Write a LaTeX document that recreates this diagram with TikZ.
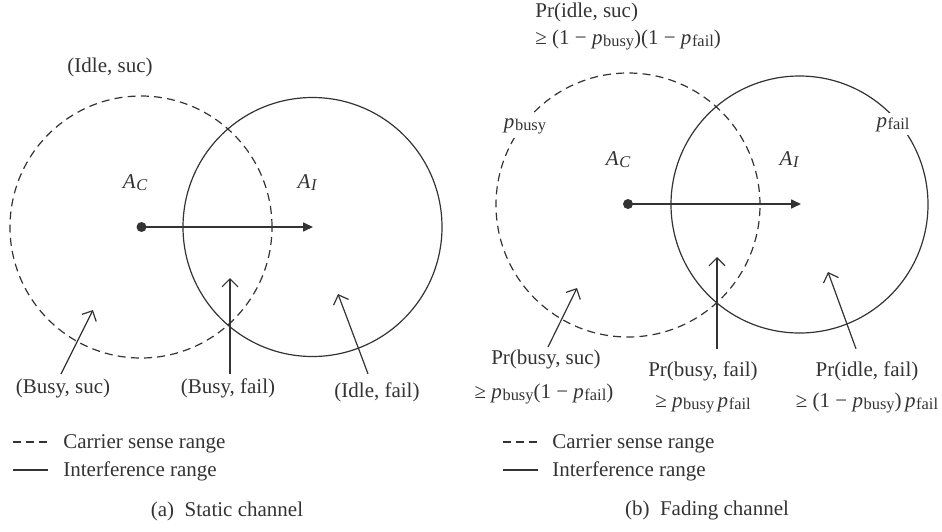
\documentclass[tikz,border=0pt]{standalone}
\usepackage{fontspec}
\setmainfont{Liberation Serif}
\usetikzlibrary{arrows.meta}
\definecolor{ink}{HTML}{333333}
\newcommand{\subtxt}[1]{\raisebox{-0.3ex}{\fontsize{8.2}{9}\selectfont #1}}
\newcommand{\pbusy}{\textit{p}\kern0.3pt\subtxt{busy}}
\newcommand{\pfail}{\textit{p}\kern0.3pt\subtxt{fail}}
\newcommand{\acsym}{\textit{A}\kern0.3pt\subtxt{\itshape C}}
\newcommand{\aisym}{\textit{A}\kern0.3pt\subtxt{\itshape I}}
\begin{document}
\begin{tikzpicture}[x=0.5pt,y=-0.5pt,
  every node/.style={text=ink, font=\fontsize{10.5}{12}\selectfont, inner sep=0pt},
  dashedline/.style={draw=ink, line width=0.6pt, dash pattern=on 4pt off 2.6pt},
  solidline/.style={draw=ink, line width=0.6pt},
  pointer/.style={draw=ink, line width=0.6pt, -{Straight Barb[length=4pt,width=8pt]}},
  mainarrow/.style={draw=ink, line width=0.8pt, -{Triangle[length=5pt,width=4.5pt]}},
  gaplabel/.style={fill=white, inner sep=2pt}]
\useasboundingbox (0,0) rectangle (942,531);

% ---------- (a) Static channel ----------
\draw[dashedline] (141,227) circle[radius=65.5pt];
\draw[solidline] (312.5,227) circle[radius=64.75pt];
\fill[ink] (141.5,227) circle[radius=2.5pt];
\coordinate (aC) at (141.5,227);
\coordinate (aI) at (313,227);
\draw[mainarrow] (aC) -- (aI);
\node[anchor=base] (acl) at (135,188) {\acsym};
\node[anchor=base] (ail) at (307,188) {\aisym};
\node[anchor=base] (is) at (110,72) {(Idle, suc)};
\node[anchor=base] (bs) at (63,393) {(Busy, suc)};
\node[anchor=base] (bf) at (228,393) {(Busy, fail)};
\node[anchor=base] (ifl) at (377,397) {(Idle, fail)};
\coordinate (bst) at (93,310);
\coordinate (bft) at (230,278);
\coordinate (ift) at (338,294);
\draw[pointer] ([xshift=-1pt,yshift=2pt]bs.north) -- (bst);
\draw[pointer] ([xshift=1pt,yshift=2pt]bf.north) -- (bft);
\draw[pointer] ([xshift=-4.5pt,yshift=4pt]ifl.north) -- (ift);
% legend
\coordinate (la1) at (13,442); \coordinate (la2) at (48,442);
\coordinate (lb1) at (13,470); \coordinate (lb2) at (48,470);
\draw[draw=ink, line width=0.6pt, dash pattern=on 4pt off 2.5pt] (la1) -- (la2);
\draw[solidline] (lb1) -- (lb2);
\node[anchor=base west] (lta) at (63,448) {Carrier sense range};
\node[anchor=base west] (ltb) at (63,476) {Interference range};
\node[anchor=base] (capa) at (227,516) {(a)\enspace Static channel};

% ---------- (b) Fading channel ----------
\draw[dashedline] (628,205) circle[radius=66pt];
\draw[solidline] (799.5,204.5) circle[radius=64.25pt];
\fill[ink] (628,204) circle[radius=2.5pt];
\coordinate (bC) at (628,204);
\coordinate (bI) at (801,204);
\draw[mainarrow] (bC) -- (bI);
\node[anchor=base] (bcl) at (618,165) {\acsym};
\node[anchor=base] (bil) at (789,165) {\aisym};
\node[anchor=base, gaplabel] (pb) at (525,128) {\pbusy};
\node[anchor=base, gaplabel] (pf) at (893,127) {\pfail};
\node[anchor=base west] (pis1) at (535,17) {Pr(idle, suc)};
\node[anchor=base west] (pis2) at (535,44) {≥ (1 − \pbusy)(1 − \pfail)};
\node[anchor=base] (pbs1) at (546,364) {Pr(busy, suc)};
\node[anchor=base] (pbs2) at (544,398) {≥ \pbusy(1 − \pfail)};
\node[anchor=base] (pbf1) at (703,376) {Pr(busy, fail)};
\node[anchor=base] (pbf2) at (703,407) {≥ \pbusy\,\pfail};
\node[anchor=base] (pif1) at (867,376) {Pr(idle, fail)};
\node[anchor=base] (pif2) at (867,407) {≥ (1 − \pbusy)\,\pfail};
\coordinate (pbst) at (577,288);
\coordinate (pbft) at (717,257);
\coordinate (pift) at (828,272);
\draw[pointer] ([xshift=1pt,yshift=1pt]pbs1.north) -- (pbst);
\draw[pointer] ([xshift=7pt,yshift=6pt]pbf1.north) -- (pbft);
\draw[pointer] ([xshift=-5.5pt,yshift=6pt]pif1.north) -- (pift);
% legend
\coordinate (lc1) at (503,442); \coordinate (lc2) at (538,442);
\coordinate (ld1) at (503,470); \coordinate (ld2) at (538,470);
\draw[draw=ink, line width=0.6pt, dash pattern=on 4pt off 2.5pt] (lc1) -- (lc2);
\draw[solidline] (ld1) -- (ld2);
\node[anchor=base west] (ltc) at (552,448) {Carrier sense range};
\node[anchor=base west] (ltd) at (552,476) {Interference range};
\node[anchor=base] (capb) at (707,515) {(b)\enspace Fading channel};
\end{tikzpicture}
\end{document}
